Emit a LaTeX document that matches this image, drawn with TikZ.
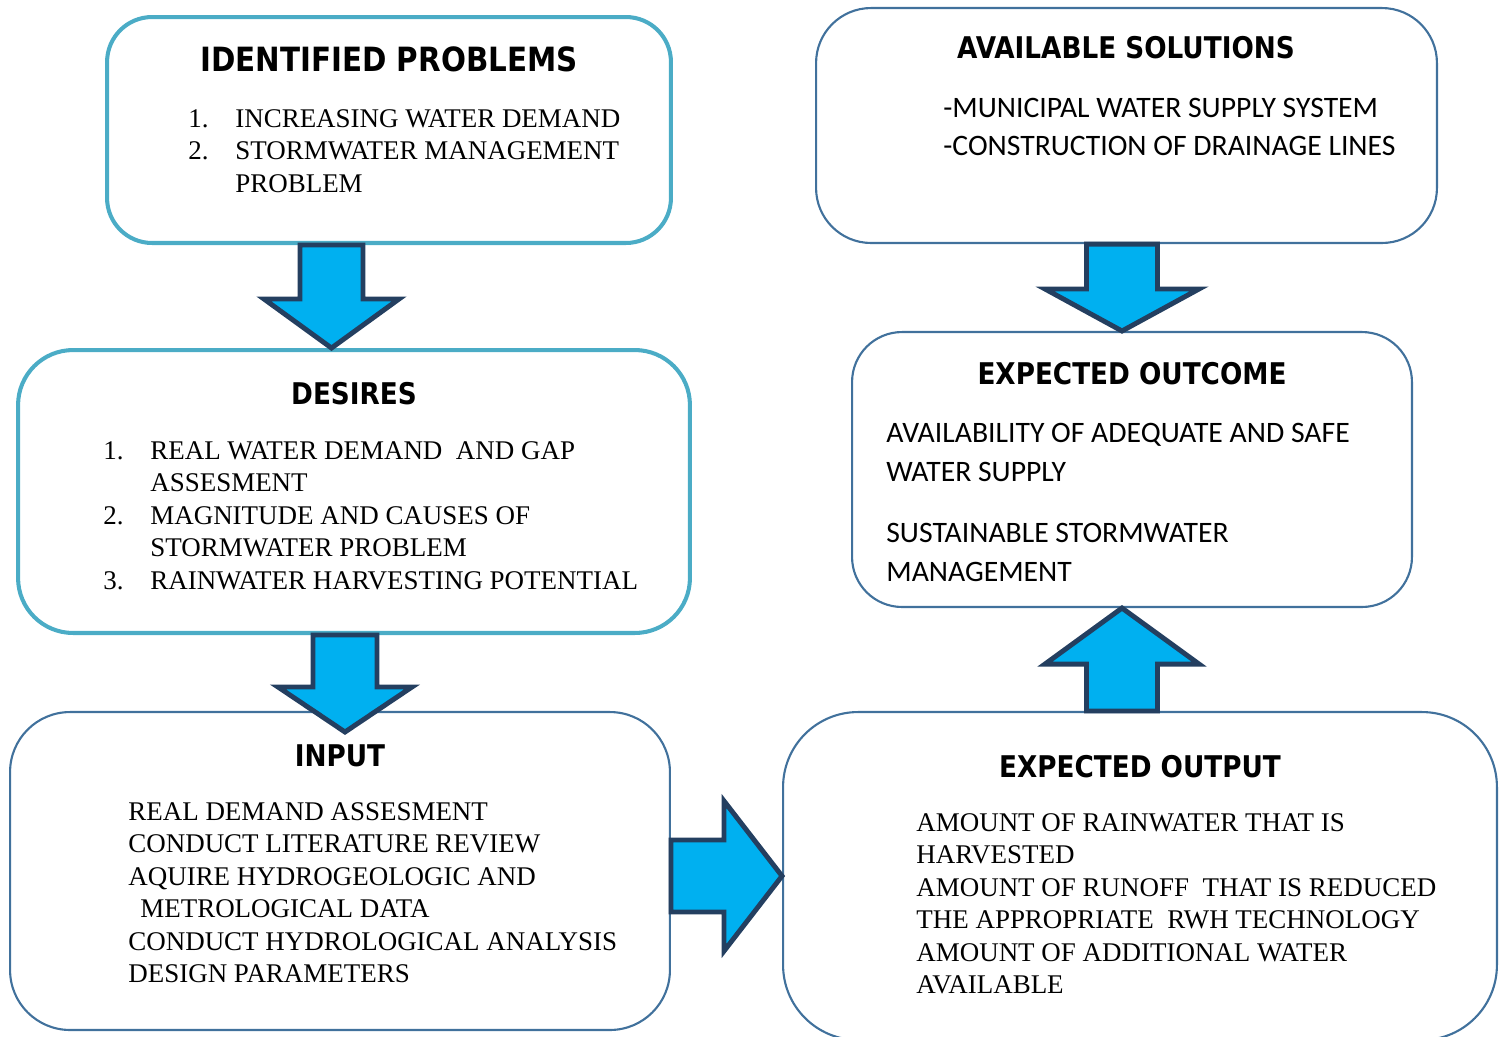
\documentclass[tikz,border=0pt]{standalone}
\usepackage{fontspec}
\setmainfont{Liberation Serif}
\newfontfamily\headfont[FakeStretch=0.88]{DejaVu Sans}
\newfontfamily\bodysans{Carlito}
\usetikzlibrary{calc}

\definecolor{tealline}{HTML}{4BACC6}
\definecolor{blueline}{HTML}{41719C}
\definecolor{arrowfill}{HTML}{00B0F0}
\definecolor{arrowline}{HTML}{243F60}

\tikzset{
  tealbox/.style={draw=tealline, line width=2.3pt, rounded corners=0.9cm},
  bluebox/.style={draw=blueline, line width=1.2pt, rounded corners=1.1cm},
  heading/.style={font=\headfont\bfseries\fontsize{17}{20}\selectfont, anchor=base, inner sep=0pt},
  serifbody/.style={font=\fontsize{15.35}{18.5}\selectfont, anchor=north west, inner sep=0pt, align=left},
  sansbody/.style={font=\bodysans\fontsize{16.9}{21.5}\selectfont, anchor=north west, inner sep=0pt, align=left},
  blockarrow/.style={fill=arrowfill, draw=arrowline, line width=2.8pt, line join=miter},
}

% numbered list item
\newcommand{\itm}[1]{\makebox[0.94cm][l]{#1}}

% vertical block arrow: start, tip, shaft half width, head half width, signed head length
\newcommand{\vblock}[5]{%
  \draw[blockarrow] ($(#1)+(-#3,0)$) -- ($(#1)+(#3,0)$) -- ($(#2)+(#3,#5)$) -- ($(#2)+(#4,#5)$)
    -- (#2) -- ($(#2)+(-#4,#5)$) -- ($(#2)+(-#3,#5)$) -- cycle;}

\begin{document}
\begin{tikzpicture}[x=0.02cm, y=-0.02cm]
    \useasboundingbox (0,0) rectangle (1504,1036);

    % left column
    \node[tealbox, minimum width=11.28cm, minimum height=4.52cm] (problems) at (389,130) {};
    \node[tealbox, rounded corners=1.1cm, minimum width=13.44cm, minimum height=5.66cm] (desires) at (354,491.5) {};
    \node[bluebox, rounded corners=1.2cm, minimum width=13.2cm, minimum height=6.36cm] (input) at (340,871) {};

    % right column
    \node[bluebox, minimum width=12.42cm, minimum height=4.7cm] (solutions) at (1126.5,125.5) {};
    \node[bluebox, rounded corners=1cm, minimum width=11.2cm, minimum height=5.5cm] (outcome) at (1132,469.5) {};
    \node[bluebox, rounded corners=1.5cm, minimum width=14.28cm, minimum height=6.56cm] (output) at (1140,876) {};

    \node[heading, font=\headfont\bfseries\fontsize{19}{22}\selectfont] (problemstitle) at (389,71) {IDENTIFIED PROBLEMS};
    \node[serifbody] (problemslist) at (188,109) {\itm{1.}INCREASING WATER DEMAND\\
        \itm{2.}STORMWATER MANAGEMENT\\ \itm{}PROBLEM};

    \node[heading] (desirestitle) at (354,404) {DESIRES};
    \node[serifbody] (desireslist) at (103,441) {\itm{1.}REAL WATER DEMAND~ AND GAP\\
        \itm{}ASSESMENT\\ \itm{2.}MAGNITUDE AND CAUSES OF\\ \itm{}STORMWATER PROBLEM\\
        \itm{3.}RAINWATER HARVESTING POTENTIAL};

    \node[heading] (inputtitle) at (340,766) {INPUT};
    \node[serifbody] (inputlist) at (128,802) {REAL DEMAND ASSESMENT\\ CONDUCT LITERATURE REVIEW\\
        AQUIRE HYDROGEOLOGIC AND\\ \hspace*{0.24cm}METROLOGICAL DATA\\
        CONDUCT HYDROLOGICAL ANALYSIS\\ DESIGN PARAMETERS};

    \node[heading] (solutionstitle) at (1126,58) {AVAILABLE SOLUTIONS};
    \node[sansbody] (solutionslist) at (943,98) {-MUNICIPAL WATER SUPPLY SYSTEM\\
        -CONSTRUCTION OF DRAINAGE LINES};

    \node[heading] (outcometitle) at (1132,384) {EXPECTED OUTCOME};
    \node[sansbody, font=\bodysans\fontsize{16.9}{22.1}\selectfont] (outcomelist) at (886,423)
        {AVAILABILITY OF ADEQUATE AND SAFE\\ WATER SUPPLY\\[12.5pt]
         SUSTAINABLE STORMWATER\\ MANAGEMENT};

    \node[heading] (outputtitle) at (1140,777) {EXPECTED OUTPUT};
    \node[serifbody] (outputlist) at (916,813) {AMOUNT OF RAINWATER THAT IS\\ HARVESTED\\
        AMOUNT OF RUNOFF~ THAT IS REDUCED\\ THE APPROPRIATE~ RWH TECHNOLOGY\\
        AMOUNT OF ADDITIONAL WATER\\ AVAILABLE};

    % block arrows between the boxes
    \coordinate (a1s) at (331.5,0 |- problems.south);
    \coordinate (a1e) at (331.5,0 |- desires.north);
    \vblock{a1s}{a1e}{31.5}{67.5}{-49}

    \coordinate (a2s) at (345,0 |- desires.south);
    \coordinate (a2e) at ($(345,0 |- input.north)+(0,21)$);
    \vblock{a2s}{a2e}{32}{67}{-45}

    \coordinate (a4s) at (1122,0 |- solutions.south);
    \coordinate (a4e) at (1122,0 |- outcome.north);
    \vblock{a4s}{a4e}{35.5}{77}{-42}

    \coordinate (a5s) at (1122,0 |- output.north);
    \coordinate (a5e) at (1122,0 |- outcome.south);
    \vblock{a5s}{a5e}{35.5}{77}{56}

    \coordinate (a3s) at (input.east |- 0,876);
    \coordinate (a3e) at (output.west |- 0,876);
    \draw[blockarrow] ($(a3s)+(0,-36)$) -- ($(a3e)+(-58,-36)$) -- ($(a3e)+(-58,-75)$) -- (a3e)
        -- ($(a3e)+(-58,75)$) -- ($(a3e)+(-58,36)$) -- ($(a3s)+(0,36)$) -- cycle;
\end{tikzpicture}
\end{document}
